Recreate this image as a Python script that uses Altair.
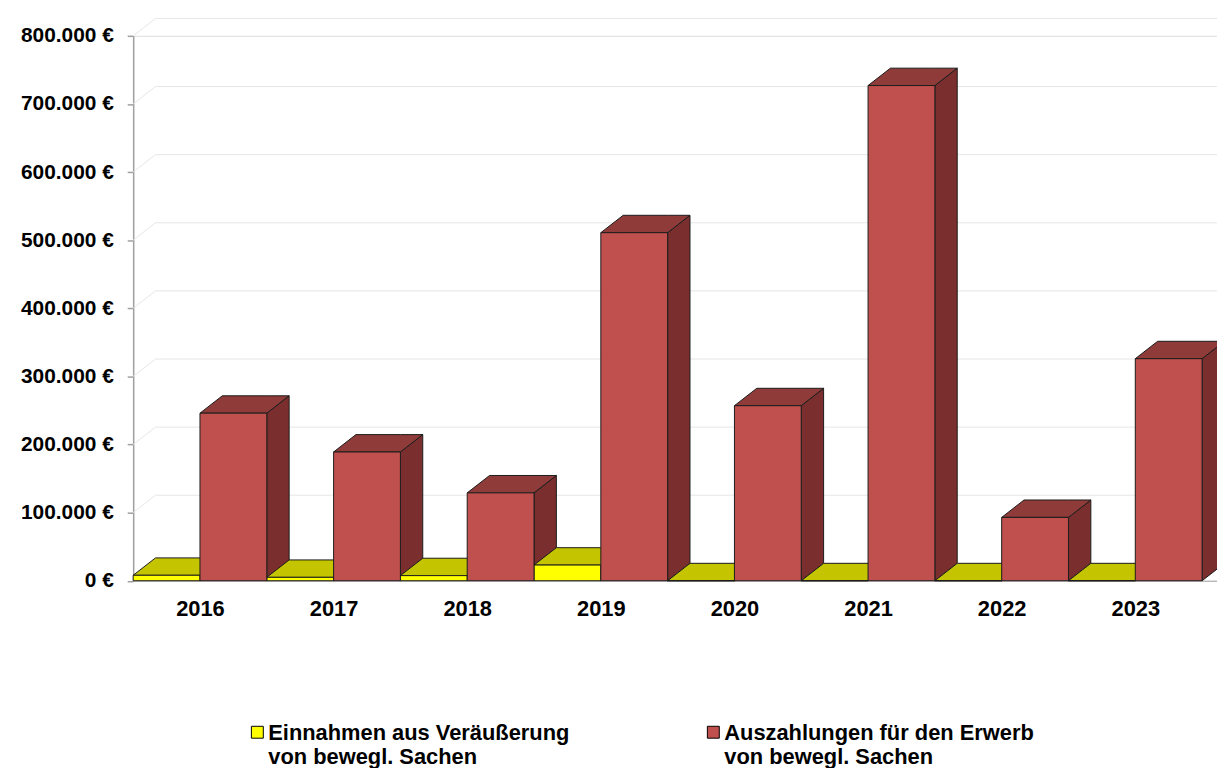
import altair as alt
import pandas as pd

# ---- data ----
years = ["2016", "2017", "2018", "2019", "2020", "2021", "2022", "2023"]
einnahmen = [8000, 5000, 7500, 23000, 0, 0, 0, 0]
auszahlungen = [246000, 189000, 129000, 511000, 257000, 727000, 93000, 326000]
series_names = [
    "Einnahmen aus Veräußerung\nvon bewegl. Sachen",
    "Auszahlungen für den Erwerb\n\u00a0\u00a0von bewegl. Sachen",
]
y_ticks = [0, 100000, 200000, 300000, 400000, 500000, 600000, 700000, 800000]

# ---- styling / layout ----
front_colors = ["#FFFF00", "#C0504D"]
top_colors = ["#C4C400", "#8E3B39"]
side_colors = ["#9A9A00", "#7A2E2D"]
EDGE = "#1c1c1c"
FONT = "Liberation Sans"

W, H = 1091, 548.5
CAT_W = 134.5          # px per year
Y_MAX = 800000
DX_PX, DY_PX = 22.5, 17.5
dxu = DX_PX / CAT_W
dyu = DY_PX * Y_MAX / H
X_END = W / CAT_W

xs = alt.Scale(domain=[0, X_END], nice=False, zero=False)
ys = alt.Scale(domain=[0, Y_MAX], nice=False, zero=False)

fronts, tops, sides = [], [], []
for s, (name, vals) in enumerate(zip(series_names, [einnahmen, auszahlungen])):
    off = 0.5 * s
    for i, v in enumerate(vals):
        x0 = i + off
        x1 = x0 + 0.5
        fid = f"{s}-{i}"
        fronts.append(dict(series=name, s=s, x=x0, x2=x1, lo=0, hi=v))
        for xx, lo, hi in [(x0, v, v), (x0 + dxu, v, v + dyu),
                           (x1, v, v + dyu), (x1 + dxu, v + dyu, v + dyu)]:
            tops.append(dict(s=s, id=fid, x=xx, lo=lo, hi=hi))
        for xx, lo, hi in [(x1, 0, v), (x1 + dxu, dyu, v + dyu)]:
            sides.append(dict(s=s, id=fid, x=xx, lo=lo, hi=hi))

fronts = pd.DataFrame(fronts)
tops = pd.DataFrame(tops)
sides = pd.DataFrame(sides)

grid_diag = pd.DataFrame({"x": [0.0] * len(y_ticks), "x2": [dxu] * len(y_ticks),
                          "y": y_ticks, "y2": [t + dyu for t in y_ticks]})
grid_h = pd.DataFrame({"x": [dxu] * len(y_ticks), "x2": [X_END + 1] * len(y_ticks),
                       "y": [t + dyu for t in y_ticks]})

label_arr = "[" + ",".join(f"'{y}'" for y in years) + "]"

x_axis = alt.Axis(values=[i + 0.5 for i in range(len(years))],
                  labelExpr=f"{label_arr}[floor(datum.value)]",
                  ticks=False, grid=False, domain=True, domainColor="#a6a6a6",
                  domainWidth=1, labelPadding=18, labelFont=FONT,
                  labelFontSize=22, labelFontWeight="bold", labelColor="#000",
                  title=None)
y_axis = alt.Axis(values=y_ticks,
                  labelExpr="replace(format(datum.value, ',d'), ',', '.') + ' €'",
                  grid=False, domain=True, domainColor="#a0a0a0", domainWidth=1.5,
                  ticks=True, tickColor="#a0a0a0", tickSize=6, tickWidth=1.5,
                  labelPadding=14, labelFont=FONT, labelFontSize=21,
                  labelFontWeight="bold", labelColor="#000", title=None)

g1 = alt.Chart(grid_diag).mark_rule(color="#e6e6e6", strokeWidth=1).encode(
    x=alt.X("x:Q", scale=xs, axis=x_axis),
    x2="x2",
    y=alt.Y("y:Q", scale=ys, axis=y_axis),
    y2="y2",
)
g2 = alt.Chart(grid_h).mark_rule(color="#e6e6e6", strokeWidth=1).encode(
    x=alt.X("x:Q", scale=xs, title=None),
    x2="x2",
    y=alt.Y("y:Q", scale=ys, title=None),
)


def area_layer(df, s, color):
    return alt.Chart(df[df.s == s]).mark_area(
        fill=color, stroke=EDGE, strokeWidth=1, strokeJoin="miter",
        opacity=1, fillOpacity=1, interpolate="linear"
    ).encode(
        x=alt.X("x:Q", scale=xs, title=None),
        y=alt.Y("lo:Q", scale=ys, title=None),
        y2="hi",
        detail="id:N",
    )


# square symbol raised so that it sits beside the first label line
SYMBOL_PATH = "M-1,-2.33H1V-0.33H-1Z"


def front_layer(s):
    return alt.Chart(fronts[fronts.s == s]).mark_rect(
        stroke=EDGE, strokeWidth=1, opacity=1
    ).encode(
        x=alt.X("x:Q", scale=xs, title=None),
        x2="x2",
        y=alt.Y("lo:Q", scale=ys, title=None),
        y2="hi",
        color=alt.Color(
            "series:N",
            scale=alt.Scale(domain=series_names, range=front_colors),
            legend=alt.Legend(
                orient="none", legendX=114, legendY=698, direction="horizontal",
                title=None, symbolType=SYMBOL_PATH, symbolSize=144,
                symbolStrokeColor="#000", symbolStrokeWidth=1, symbolOpacity=1,
                labelFont=FONT, labelFontSize=22, labelFontWeight="bold",
                labelColor="#000", labelLimit=1000, labelOffset=0,
                columnPadding=133, labelExpr="split(datum.label, '\\n')",
                labelBaseline="alphabetic",
            ),
        ),
    )


chart = alt.layer(
    g1, g2,
    area_layer(sides, 1, side_colors[1]),
    area_layer(sides, 0, side_colors[0]),
    area_layer(tops, 0, top_colors[0]),
    front_layer(0),
    area_layer(tops, 1, top_colors[1]),
    front_layer(1),
).properties(
    width=W, height=H,
    autosize=alt.AutoSizeParams(type="none"),
    padding={"left": 126, "top": 25.5, "right": 0, "bottom": 186},
).configure_view(stroke=None).configure(background="white")

chart.save("out.html", embed_options={"renderer": "svg", "actions": False})
